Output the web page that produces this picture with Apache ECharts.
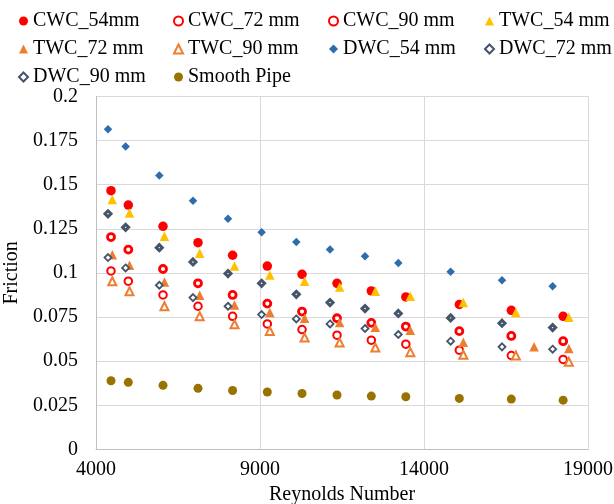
<!DOCTYPE html>
<html>
<head>
<meta charset="utf-8">
<script src="https://cdn.jsdelivr.net/npm/echarts@6/dist/echarts.min.js"></script>
<style>html,body{margin:0;padding:0;background:#fff;}#c{width:614px;height:504px;}</style>
</head>
<body>
<div id="c"></div>
<script>
var reDWC = [4366, 4903, 5930, 6957, 8025, 9049, 10107, 11135, 12202, 13217, 14812, 16379, 17922];
var reCWC = [4457, 4985, 6043, 7110, 8165, 9223, 10281, 11348, 12394, 13446, 15077, 16662, 18242];
var reTWC = [4497, 5021, 6086, 7162, 8223, 9299, 10360, 11427, 12516, 13583, 15199, 16800, 18416];
var reTWC72 = [4497, 5021, 6086, 7162, 8223, 9299, 10360, 11427, 12516, 13583, 15199, 17355, 18416];
var reSmooth = [4457, 4985, 6043, 7110, 8165, 9223, 10281, 11348, 12394, 13446, 15077, 16662, 18242];

var fCWC54 = [0.1466,0.1384,0.1264,0.1171,0.1100,0.1039,0.0992,0.0941,0.0898,0.0864,0.0821,0.0788,0.0754];
var fCWC72 = [0.1203,0.1132,0.1022,0.0941,0.0875,0.0826,0.0781,0.0743,0.0717,0.0696,0.0670,0.0643,0.0613];
var fCWC90 = [0.1011,0.0953,0.0875,0.0811,0.0754,0.0711,0.0679,0.0647,0.0619,0.0596,0.0562,0.0532,0.0510];
var fTWC54 = [0.1416,0.1339,0.1207,0.1111,0.1039,0.0988,0.0952,0.0920,0.0896,0.0868,0.0832,0.0775,0.0749];
var fTWC72 = [0.1103,0.1043,0.0949,0.0873,0.0818,0.0775,0.0743,0.0719,0.0692,0.0675,0.0607,0.0581,0.0572];
var fTWC90 = [0.0953,0.0896,0.0811,0.0754,0.0709,0.0671,0.0634,0.0606,0.0577,0.0551,0.0536,0.0532,0.0496];
var fDWC54 = [0.1814,0.1716,0.1552,0.1409,0.1307,0.1230,0.1175,0.1132,0.1094,0.1056,0.1007,0.0958,0.0924];
var fDWC72 = [0.1335,0.1258,0.1143,0.1062,0.0996,0.0941,0.0879,0.0832,0.0798,0.0770,0.0745,0.0715,0.0690];
var fDWC90 = [0.1087,0.1028,0.0930,0.0860,0.0811,0.0764,0.0739,0.0711,0.0685,0.0651,0.0613,0.0581,0.0568];
var fSmooth = [0.0389,0.0380,0.0363,0.0346,0.0334,0.0325,0.0317,0.0308,0.0302,0.0298,0.0289,0.0285,0.0279];

var seriesNames = ['CWC_54mm','CWC_72 mm','CWC_90 mm','TWC_54 mm','TWC_72 mm','TWC_90 mm','DWC_54 mm','DWC_72 mm','DWC_90 mm','Smooth Pipe'];
var xTicks = [4000, 9000, 14000, 19000];
var X0 = 4000;

var FONT = '"Liberation Serif", "Times New Roman", serif';
function pts(xs, ys){ return xs.map(function(x,i){ return [x - X0, ys[i]]; }); }
function ser(name, xs, ys, symbol, size, fill, border, bw){
  return {
    name: name, type: 'scatter', data: pts(xs, ys), symbol: symbol, symbolSize: size,
    itemStyle: {color: fill, borderColor: border, borderWidth: bw, opacity: 1},
    emphasis: {disabled: true}, animation: false
  };
}
var RED = '#FF0000', GOLD = '#FFC000', ORANGE = '#ED7D31', BLUE = '#2E6DAD', SLATE = '#44546A', OLIVE = '#997300';

var series = [
  ser(seriesNames[0], reCWC, fCWC54, 'circle', 9.5, RED, RED, 0),
  ser(seriesNames[1], reCWC, fCWC72, 'circle', 7, '#fff', RED, 2.8),
  ser(seriesNames[2], reCWC, fCWC90, 'circle', 7.5, '#fff', RED, 2),
  ser(seriesNames[3], reTWC, fTWC54, 'triangle', 9.5, GOLD, GOLD, 0),
  ser(seriesNames[4], reTWC72, fTWC72, 'triangle', 9.5, ORANGE, ORANGE, 0),
  ser(seriesNames[5], reTWC, fTWC90, 'triangle', 8, '#fff', ORANGE, 2),
  ser(seriesNames[6], reDWC, fDWC54, 'diamond', 8.5, BLUE, BLUE, 0),
  ser(seriesNames[7], reDWC, fDWC72, 'diamond', 6, '#fff', SLATE, 3),
  ser(seriesNames[8], reDWC, fDWC90, 'diamond', 7, '#fff', SLATE, 1.8),
  ser(seriesNames[9], reSmooth, fSmooth, 'circle', 9, OLIVE, OLIVE, 0)
];

function legendCol(left, names){
  return {
    orient: 'vertical', left: left, top: 6, itemWidth: 9, itemHeight: 9, itemGap: 8,
    selectedMode: false, data: names,
    textStyle: {fontFamily: FONT, fontSize: 20, color: '#000', lineHeight: 20, padding: [0,0,0,0]}
  };
}

var chart = echarts.init(document.getElementById('c'), null, {renderer: 'canvas'});
chart.setOption({
  backgroundColor: '#fff',
  animation: false,
  textStyle: {fontFamily: FONT},
  legend: [
    legendCol(13, [seriesNames[0], seriesNames[4], seriesNames[8]]),
    legendCol(168, [seriesNames[1], seriesNames[5], seriesNames[9]]),
    legendCol(323, [seriesNames[2], seriesNames[6]]),
    legendCol(479, [seriesNames[3], seriesNames[7]])
  ],
  grid: {left: 96, right: 26, top: 96.4, bottom: 54.6, containLabel: false, outerBoundsMode: 'none'},
  xAxis: {
    type: 'value', min: xTicks[0] - X0, max: xTicks[xTicks.length-1] - X0, interval: xTicks[1] - xTicks[0],
    name: 'Reynolds Number', nameLocation: 'middle', nameGap: 34,
    nameTextStyle: {fontFamily: FONT, fontSize: 20, color: '#000'},
    axisLine: {show: true, lineStyle: {color: '#BFBFBF', width: 1}},
    axisTick: {show: false},
    axisLabel: {fontFamily: FONT, fontSize: 20, color: '#000', margin: 10,
      formatter: function(v){ return String(v + X0); }},
    splitLine: {show: true, lineStyle: {color: '#D9D9D9', width: 1}}
  },
  yAxis: {
    type: 'value', min: 0, max: 0.2, interval: 0.025,
    name: 'Friction', nameLocation: 'middle', nameGap: 70, nameRotate: 90,
    nameTextStyle: {fontFamily: FONT, fontSize: 20, color: '#000'},
    axisLine: {show: true, lineStyle: {color: '#BFBFBF', width: 1}},
    axisTick: {show: false},
    axisLabel: {fontFamily: FONT, fontSize: 20, color: '#000', margin: 18,
      formatter: function(v){ return String(+v.toFixed(3)); }},
    splitLine: {show: true, lineStyle: {color: '#D9D9D9', width: 1}}
  },
  series: series
});
</script>
</body>
</html>
